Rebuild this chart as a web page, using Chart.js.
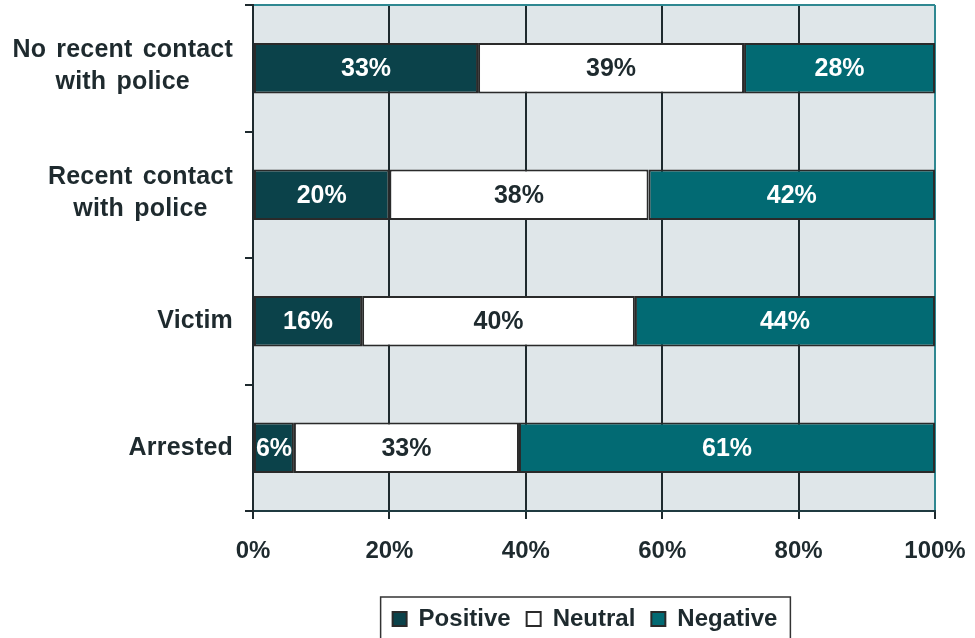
<!DOCTYPE html>
<html>
<head>
<meta charset="utf-8">
<script src="https://cdn.jsdelivr.net/npm/chart.js@4.4.0/dist/chart.umd.min.js"></script>
<style>
  html, body { margin: 0; padding: 0; background: #fff; }
  #wrap { width: 975px; height: 638px; }
</style>
</head>
<body>
<div id="wrap"><canvas id="results"></canvas></div>
<script>
var groups = [['No recent contact', 'with police'], ['Recent contact', 'with police'], 'Victim', 'Arrested'];
var positive = [33, 20, 16, 6];
var neutral = [39, 38, 40, 33];
var negative = [28, 42, 44, 61];

var FONT = '"Liberation Sans", Arial, sans-serif';
var INK = '#1e2a2e';

// plot background
var plotBg = {
  id: 'plotBg',
  beforeDraw: function (chart) {
    var a = chart.chartArea;
    var c = chart.ctx;
    c.save();
    c.fillStyle = '#dfe6e9';
    c.fillRect(a.left, a.top, a.right - a.left, a.bottom - a.top);
    c.restore();
  }
};

// percentages inside the bars
var barLabels = {
  id: 'barLabels',
  afterDatasetsDraw: function (chart) {
    var c = chart.ctx;
    c.save();
    c.font = 'bold 25px ' + FONT;
    c.textAlign = 'center';
    c.textBaseline = 'middle';
    chart.data.datasets.forEach(function (ds, i) {
      chart.getDatasetMeta(i).data.forEach(function (bar, j) {
        c.fillStyle = ds.labelColor;
        c.fillText(ds.data[j] + '%', (bar.x + bar.base) / 2, bar.y + 1);
      });
    });
    c.restore();
  }
};

// y labels: right aligned block, lines centred inside it
var yLabels = {
  id: 'yLabels',
  afterDraw: function (chart) {
    var c = chart.ctx;
    var y = chart.scales.y;
    var right = chart.chartArea.left - 20;
    c.save();
    c.font = 'bold 25px ' + FONT;
    c.letterSpacing = '0.2px';
    c.wordSpacing = '3px';
    c.fillStyle = INK;
    c.textAlign = 'center';
    c.textBaseline = 'middle';
    groups.forEach(function (g, i) {
      var lines = [].concat(g);
      var w = 0;
      lines.forEach(function (l) { w = Math.max(w, c.measureText(l).width); });
      var cx = right - w / 2;
      var cy = y.getPixelForTick(i) - (lines.length - 1) * 18;
      lines.forEach(function (l, k) {
        c.fillText(l, cx, cy + k * 32);
      });
    });
    c.restore();
  }
};

// legend sits a little left of the plot centre; frame round it
var legendFrame = {
  id: 'legendFrame',
  afterLayout: function (chart) {
    var lg = chart.legend;
    lg.left -= 9;
    lg.right -= 9;
    lg.legendHitBoxes.forEach(function (b) { b.left -= 9; });
  },
  afterDraw: function (chart) {
    var boxes = chart.legend.legendHitBoxes;
    if (!boxes || !boxes.length) return;
    var l = boxes[0].left, r = 0, t = boxes[0].top;
    boxes.forEach(function (b) { r = Math.max(r, b.left + b.width); });
    var c = chart.ctx;
    c.save();
    c.strokeStyle = '#333';
    c.lineWidth = 1.5;
    c.strokeRect(l - 12, t - 10, r - l + 25, 60);
    c.restore();
  }
};

new Chart(document.getElementById('results').getContext('2d'), {
  type: 'bar',
  data: {
    labels: groups,
    datasets: [
      {
        label: 'Positive',
        data: positive,
        backgroundColor: '#0b424a',
        labelColor: '#ffffff'
      },
      {
        label: 'Neutral',
        data: neutral,
        backgroundColor: '#ffffff',
        labelColor: INK
      },
      {
        label: 'Negative',
        data: negative,
        backgroundColor: '#026a73',
        labelColor: '#ffffff'
      }
    ]
  },
  options: {
    indexAxis: 'y',
    responsive: true,
    maintainAspectRatio: false,
    animation: false,
    datasets: {
      bar: {
        borderColor: '#2a2a2a',
        borderWidth: 2,
        borderSkipped: false,
        categoryPercentage: 0.8,
        barPercentage: 0.5
      }
    },
    layout: { padding: { top: 5, right: 40, left: 0, bottom: -3 } },
    scales: {
      x: {
        stacked: true,
        min: 0,
        max: 100,
        afterFit: function (s) {
          s.height = 80;
          s.paddingLeft = 0;
          s.paddingRight = 0;
        },
        ticks: {
          stepSize: 20,
          padding: 18,
          color: INK,
          font: { family: FONT, size: 24, weight: 'bold' },
          callback: function (v) { return v + '%'; }
        },
        grid: {
          color: function (ctx) { return ctx.index === 5 ? '#2f8891' : INK; },
          lineWidth: 2,
          tickLength: 8,
          tickColor: INK
        },
        border: { color: '#1f3a40', width: 2 }
      },
      y: {
        stacked: true,
        offset: true,
        afterFit: function (s) { s.width = 253; },
        ticks: {
          color: 'rgba(0,0,0,0)',
          padding: 0,
          font: { size: 1 },
          callback: function () { return ''; }
        },
        grid: {
          offset: true,
          color: function (ctx) { return ctx.index === 0 ? '#2f8891' : 'rgba(0,0,0,0)'; },
          lineWidth: 2,
          tickLength: 8,
          tickColor: INK
        },
        border: { color: INK, width: 2 }
      }
    },
    plugins: {
      legend: {
        position: 'bottom',
        fullSize: false,
        labels: {
          color: INK,
          boxWidth: 14,
          boxHeight: 14,
          padding: 16,
          font: { family: FONT, size: 24, weight: 'bold' }
        }
      },
      tooltip: { enabled: false }
    }
  },
  plugins: [plotBg, barLabels, yLabels, legendFrame]
});
</script>
</body>
</html>
